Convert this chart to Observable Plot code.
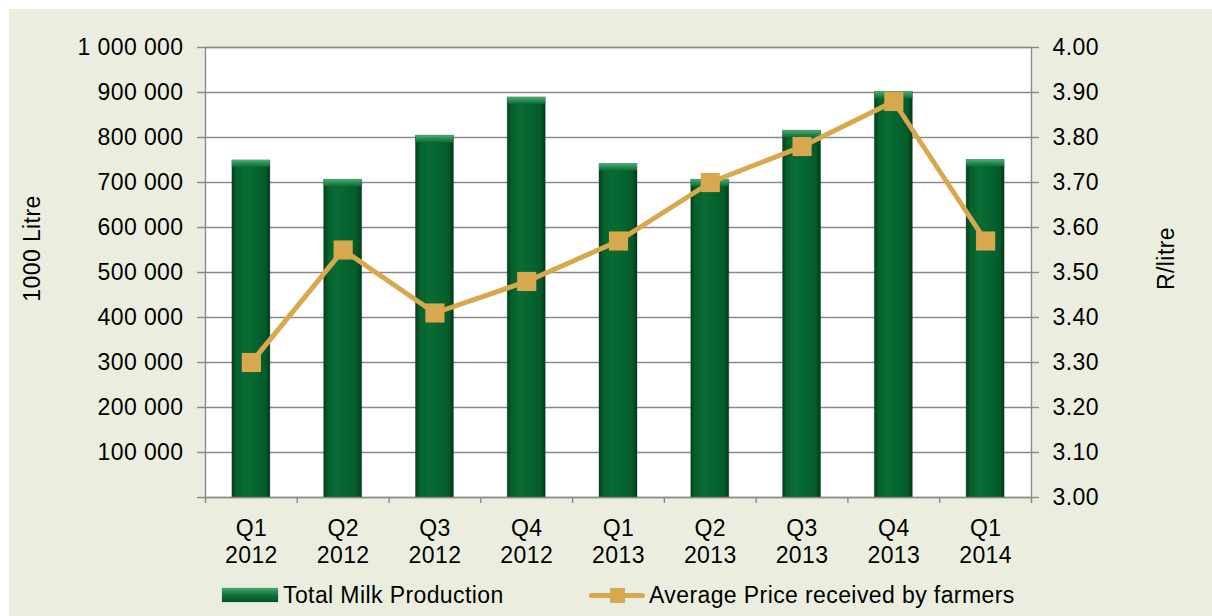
<!DOCTYPE html>
<html>
<head>
<meta charset="utf-8">
<script src="https://cdn.jsdelivr.net/npm/d3@7"></script>
<script src="https://cdn.jsdelivr.net/npm/@observablehq/plot@0.6"></script>
<style>
html, body { margin: 0; padding: 0; background: #ffffff; }
#wrap { position: relative; width: 1212px; height: 616px; overflow: hidden; font-family: "Liberation Sans", Arial, sans-serif; }
#panel { position: absolute; left: 9px; top: 9px; right: 0; bottom: 0; background: #ebeedf; }
#chart { position: absolute; left: 0; top: 0; }
#legend { position: absolute; left: 0; top: 572px; width: 1212px; height: 44px; font-size: 23px; letter-spacing: 0.4px; color: #000; }
.item { position: absolute; top: 10px; height: 26px; display: flex; align-items: center; white-space: nowrap; }
.sw-bar { width: 56px; height: 14px; margin-right: 5px; background: linear-gradient(to bottom, #43a86c 0%, #1f8049 35%, #0a6a34 60%, #034f23 100%); box-shadow: 0 0 1px rgba(0,0,0,0.4); }
.sw-line { position: relative; width: 56px; height: 16px; margin-right: 4px; }
.sw-line .ln { position: absolute; left: 0; right: 0; top: 5.5px; height: 5px; border-radius: 3px; background: #d8a84e; }
.sw-line .mk { position: absolute; left: 20.5px; top: 0.5px; width: 15px; height: 15px; background: #d8a84e; }
</style>
</head>
<body>
<div id="wrap">
  <div id="panel"></div>
  <div id="chart"></div>
  <div id="legend">
    <div class="item" style="left:222px"><div class="sw-bar"></div><span id="lg1"></span></div>
    <div class="item" style="left:589px"><div class="sw-line"><div class="ln"></div><div class="mk"></div></div><span id="lg2"></span></div>
  </div>
</div>
<script>
// ---- data ----
const quarters = ["Q1\n2012", "Q2\n2012", "Q3\n2012", "Q4\n2012", "Q1\n2013", "Q2\n2013", "Q3\n2013", "Q4\n2013", "Q1\n2014"];
const production = [749000, 706000, 804000, 889000, 741000, 706000, 815000, 901000, 750000];
const price = [3.30, 3.55, 3.41, 3.48, 3.57, 3.70, 3.78, 3.88, 3.57];
const productionTicks = [0, 100000, 200000, 300000, 400000, 500000, 600000, 700000, 800000, 900000, 1000000];
const priceTicks = [3.00, 3.10, 3.20, 3.30, 3.40, 3.50, 3.60, 3.70, 3.80, 3.90, 4.00];
const seriesNames = ["Total Milk Production", "Average Price received by farmers"];
const axisTitles = ["1000 Litre", "R/litre"];

const prodMax = 1000000, priceMin = 3.0, priceMax = 4.0;
const priceToY = p => (p - priceMin) / (priceMax - priceMin) * prodMax;

const table = quarters.map((q, i) => ({quarter: q, production: production[i], price: price[i]}));

document.getElementById("lg1").textContent = seriesNames[0];
document.getElementById("lg2").textContent = seriesNames[1];

const W = 1212, H = 572, mL = 205, mR = 181, mT = 47, mB = 75;
const step = (W - mL - mR) / quarters.length;
const gridColor = "#8a8a8a";
const gold = "#d8a84e";
const FS = 23;
const fmtProd = d => d === 0 ? "" : d3.format(",")(d).replace(/,/g, " ");

const chart = Plot.plot({
  width: W, height: H,
  marginLeft: mL, marginRight: mR, marginTop: mT, marginBottom: mB,
  style: {background: "transparent", fontFamily: "'Liberation Sans', Arial, sans-serif", fontSize: FS + "px", letterSpacing: "0.4px", color: "#000", overflow: "visible"},
  x: {type: "band", domain: quarters, paddingInner: 0.586, paddingOuter: 0.293, round: false, axis: null},
  y: {domain: [0, prodMax], round: false},
  marks: [
    Plot.frame({fill: "white", stroke: null}),
    Plot.ruleY(productionTicks, {stroke: gridColor, strokeWidth: 1.4}),
    Plot.axisY({anchor: "left", ticks: productionTicks, tickFormat: fmtProd, tickSize: 8, tickPadding: 14, stroke: gridColor, strokeWidth: 1.4, fill: "#000", label: null, fontSize: FS}),
    Plot.axisY({anchor: "right", ticks: productionTicks, tickFormat: (d, i) => priceTicks[i].toFixed(2), tickSize: 7, tickPadding: 14, stroke: gridColor, strokeWidth: 1.4, fill: "#000", label: null, fontSize: FS}),
    Plot.barY(table, {x: "quarter", y: "production", fill: "url(#barGrad)", stroke: "#1c3a24", strokeOpacity: 0.35, strokeWidth: 1}),
    Plot.barY(table, {x: "quarter", y1: "production", y2: "production", insetBottom: -7, fill: "url(#capGrad)"}),
    Plot.frame({stroke: gridColor, strokeWidth: 1.4}),
    Plot.ruleX(quarters, {x: d => d, y1: 0, y2: 0, insetBottom: -6, dx: -step / 2, stroke: gridColor, strokeWidth: 1.4}),
    Plot.ruleX(quarters.slice(-1), {x: d => d, y1: 0, y2: 0, insetBottom: -6, dx: step / 2, stroke: gridColor, strokeWidth: 1.4}),
    Plot.text(quarters, {x: d => d, frameAnchor: "bottom", lineAnchor: "top", dy: 19, lineHeight: 1.17, fontSize: FS, fill: "#000"}),
    Plot.line(table, {x: "quarter", y: d => priceToY(d.price), stroke: gold, strokeWidth: 5, strokeLinejoin: "round"}),
    Plot.dot(table, {x: "quarter", y: d => priceToY(d.price), symbol: "square", r: 10.8, fill: gold, stroke: null}),
    Plot.text([axisTitles[0]], {frameAnchor: "left", textAnchor: "middle", rotate: -90, dx: -173, dy: -24, fontSize: FS, fill: "#000"}),
    Plot.text([axisTitles[1]], {frameAnchor: "right", textAnchor: "middle", rotate: -90, dx: 135, dy: -14, fontSize: FS, fill: "#000"})
  ]
});

const defs = document.createElementNS("http://www.w3.org/2000/svg", "defs");
defs.innerHTML = `
<linearGradient id="barGrad" x1="0" x2="1" y1="0" y2="0">
  <stop offset="0" stop-color="#023f1b"/>
  <stop offset="0.12" stop-color="#05612d"/>
  <stop offset="0.35" stop-color="#0a6c35"/>
  <stop offset="0.6" stop-color="#066631"/>
  <stop offset="0.88" stop-color="#045a29"/>
  <stop offset="1" stop-color="#013a18"/>
</linearGradient>
<linearGradient id="capGrad" x1="0" x2="0" y1="0" y2="1">
  <stop offset="0" stop-color="#4caf75"/>
  <stop offset="0.5" stop-color="#2a8a52"/>
  <stop offset="1" stop-color="#0b6b36"/>
</linearGradient>`;
chart.insertBefore(defs, chart.firstChild);
document.getElementById("chart").appendChild(chart);
</script>
</body>
</html>
